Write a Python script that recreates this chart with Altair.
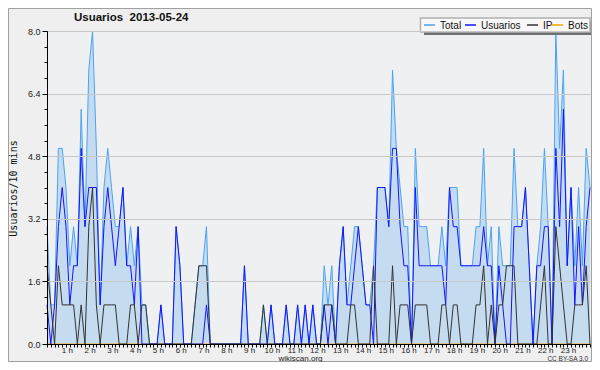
import altair as alt
import pandas as pd

# ---- data (10-minute slots, 0 = 00:00 ... 143 = 23:50) ----
series_names = ["Total", "Usuarios", "IP", "Bots"]
series_colors = ["#4aa3f5", "#1414ff", "#333333", "#ffa500"]

total = [
    3, 1, 1, 5, 5, 4, 2, 3, 2, 6, 3, 7,
    8, 5, 1, 4, 5, 4, 3, 3, 4, 2, 3, 2,
    3, 1, 1, 0, 0, 0, 1, 0, 0, 0, 3, 2,
    0, 0, 0, 1, 2, 2, 3, 0, 0, 0, 0, 0,
    0, 0, 0, 0, 2, 0, 0, 0, 0, 1, 0, 1,
    0, 0, 0, 1, 0, 0, 1, 0, 1, 0, 1, 0,
    0, 2, 1, 2, 0, 2, 3, 1, 2, 3, 3, 2,
    1, 1, 2, 4, 4, 4, 3, 7, 5, 4, 3, 3,
    0, 5, 3, 3, 3, 2, 2, 2, 3, 2, 4, 4,
    4, 2, 2, 2, 2, 3, 3, 5, 2, 3, 0, 3,
    2, 2, 2, 5, 3, 3, 4, 2, 0, 2, 3, 5,
    3, 0, 8, 5, 7, 2, 4, 2, 4, 2, 5, 4,
]
usuarios = [
    1, 0, 1, 3, 4, 3, 1, 2, 2, 5, 3, 4,
    4, 4, 1, 3, 4, 3, 2, 3, 4, 2, 2, 1,
    3, 0, 0, 0, 0, 0, 1, 0, 0, 0, 3, 2,
    0, 0, 0, 0, 0, 0, 1, 0, 0, 0, 0, 0,
    0, 0, 0, 0, 2, 0, 0, 0, 0, 0, 0, 1,
    0, 0, 0, 1, 0, 0, 1, 0, 1, 0, 1, 0,
    0, 1, 0, 1, 0, 2, 3, 1, 1, 2, 3, 2,
    1, 1, 0, 4, 4, 4, 3, 5, 5, 3, 2, 2,
    0, 4, 2, 2, 2, 2, 2, 2, 2, 1, 4, 3,
    3, 2, 2, 2, 2, 2, 2, 3, 2, 2, 0, 2,
    1, 0, 0, 3, 3, 3, 4, 2, 0, 2, 2, 3,
    3, 0, 5, 3, 6, 2, 4, 1, 3, 1, 3, 4,
]
ip = [
    2, 1, 0, 2, 1, 1, 1, 1, 0, 1, 0, 3,
    4, 1, 0, 1, 1, 1, 1, 0, 0, 0, 1, 1,
    0, 1, 1, 0, 0, 0, 0, 0, 0, 0, 0, 0,
    0, 0, 0, 1, 2, 2, 2, 0, 0, 0, 0, 0,
    0, 0, 0, 0, 0, 0, 0, 0, 0, 1, 0, 0,
    0, 0, 0, 0, 0, 0, 0, 0, 0, 0, 0, 0,
    0, 1, 1, 1, 0, 0, 0, 0, 1, 1, 0, 0,
    0, 0, 2, 0, 0, 0, 0, 2, 0, 1, 1, 1,
    0, 1, 1, 1, 1, 0, 0, 0, 1, 1, 0, 1,
    1, 0, 0, 0, 0, 1, 1, 2, 0, 1, 0, 1,
    1, 2, 2, 2, 0, 0, 0, 0, 0, 0, 1, 2,
    0, 0, 3, 2, 1, 0, 0, 1, 1, 1, 2, 0,
]
bots = [0] * 144

y_major_ticks = [0.0, 1.6, 3.2, 4.8, 6.4, 8.0]
y_minor_ticks = [round(0.4 * k, 1) for k in range(21)]
x_ticks = list(range(144))

title_text = "Usuarios\u00a0\u00a02013-05-24"
y_title = "Usuarios/10 mins"
x_title = "wikiscan.org"
license_text = "CC BY-SA 3.0"

# legend layout (pixel offsets of each legend symbol start, relative to plot origin)
legend_sym_x = [377, 418, 480, 505]

# ---- tables ----
rows = []
for name, vals in zip(series_names, [total, usuarios, ip, bots]):
    for i, v in enumerate(vals):
        rows.append({"slot": i, "serie": name, "valor": v})
df = pd.DataFrame(rows)
df_total = pd.DataFrame({"slot": list(range(len(total))), "valor": total})
one = pd.DataFrame({"k": [0]})
df_leg = pd.DataFrame({
    "serie": series_names,
    "x0": legend_sym_x,
    "x1": [v + 11 for v in legend_sym_x],
    "xt": [v + 16 for v in legend_sym_x],
})

W, H = 543, 313
FONT = "Liberation Sans"

x_scale = alt.Scale(domain=[0, 143], nice=False, zero=False)
y_scale = alt.Scale(domain=[0, 8], nice=False)
color_scale = alt.Scale(domain=series_names, range=series_colors)

x_axis = alt.Axis(
    values=x_ticks,
    labelExpr="datum.value % 6 == 0 && datum.value > 0 ? (datum.value / 6) + ' h' : ''",
    tickSize=3, tickColor="black", domainColor="black",
    labelOffset=-3, labelOverlap=False, labelFlush=False,
    labelFont=FONT, labelFontSize=8, labelColor="#222", labelPadding=-1,
    labelBaseline="top",
    grid=False, zindex=1,
    title=x_title, titleFont=FONT, titleFontSize=8, titleFontWeight="normal",
    titleColor="#222", titleX=253, titleY=16.5, titleBaseline="alphabetic",
)
y_axis = alt.Axis(
    values=y_major_ticks, format=".1f",
    tickSize=5, tickColor="black", domainColor="black",
    labelFont=FONT, labelFontSize=9, labelColor="#222", labelPadding=2,
    grid=True, gridColor="#c8c8c8", gridWidth=1, zindex=1,
    title=y_title, titleFont="DejaVu Sans Mono", titleFontSize=10,
    titleFontWeight="normal", titleColor="#111",
    titleAngle=-90, titleX=-34, titleY=157, titleBaseline="middle", titleAlign="center",
)
y_axis_minor = alt.Axis(
    values=y_minor_ticks, orient="left", labels=False, domain=False, grid=False,
    tickSize=3, tickColor="black", title=None, zindex=1,
)

area = alt.Chart(df_total).mark_area(color="#c5dcf0", opacity=1, line=False).encode(
    x=alt.X("slot:Q", scale=x_scale, axis=x_axis),
    y=alt.Y("valor:Q", scale=y_scale, axis=y_axis),
)

def line_layer(name, yaxis):
    return alt.Chart(df).transform_filter(alt.datum.serie == name).mark_line(
        strokeWidth=1, interpolate="linear"
    ).encode(
        x=alt.X("slot:Q", scale=x_scale, axis=None),
        y=alt.Y("valor:Q", scale=y_scale, axis=yaxis),
        color=alt.Color("serie:N", scale=color_scale, legend=None),
    )

lines = [
    line_layer("Bots", None),
    line_layer("Total", y_axis_minor),
    line_layer("Usuarios", None),
    line_layer("IP", None),
]

# legend (box, shadow, symbols, labels)
leg_shadow = alt.Chart(one).mark_rect(color="#707070").encode(
    x=alt.value(377), x2=alt.value(546), y=alt.value(-10), y2=alt.value(4)
)
leg_box = alt.Chart(one).mark_rect(fill="#f8f8f8", stroke="#b0b0b0", strokeWidth=1.5).encode(
    x=alt.value(373.5), x2=alt.value(543), y=alt.value(-13), y2=alt.value(1)
)
leg_sym = alt.Chart(df_leg).mark_rule(strokeWidth=1.5).encode(
    x=alt.X("x0:Q", scale=None), x2="x1:Q", y=alt.value(-6),
    color=alt.Color("serie:N", scale=color_scale, legend=None),
)
leg_txt = alt.Chart(df_leg).mark_text(
    font=FONT, fontSize=10, color="#111", align="left", baseline="middle"
).encode(x=alt.X("xt:Q", scale=None), y=alt.value(-5.5), text="serie:N")

border = alt.Chart(one).mark_rect(fillOpacity=0, stroke="#a0a0a0", strokeWidth=1).encode(
    x=alt.value(-38.5), x2=alt.value(544.5), y=alt.value(-22.5), y2=alt.value(330.5)
)

lic = alt.Chart(one).mark_text(
    text=license_text, font=FONT, fontSize=6.5, color="#333", align="right", baseline="alphabetic"
).encode(x=alt.value(541), y=alt.value(329.5))

title = alt.Chart(one).mark_text(
    text=title_text, font=FONT, fontSize=11.5, fontWeight="bold", color="#111",
    align="left", baseline="alphabetic",
).encode(x=alt.value(27), y=alt.value(-10))

chart = alt.layer(
    area, *lines, leg_shadow, leg_box, leg_sym, leg_txt, lic, title, border
).resolve_axis(
    x="independent", y="independent"
).properties(
    width=W, height=H,
    padding={"left": 39, "top": 23, "right": 2, "bottom": 18},
    autosize=alt.AutoSizeParams(type="none"),
).configure(background="#efefef").configure_view(fill="#eef0f2", stroke=None)

chart.save("out.html", embed_options={"renderer": "svg", "actions": False})
